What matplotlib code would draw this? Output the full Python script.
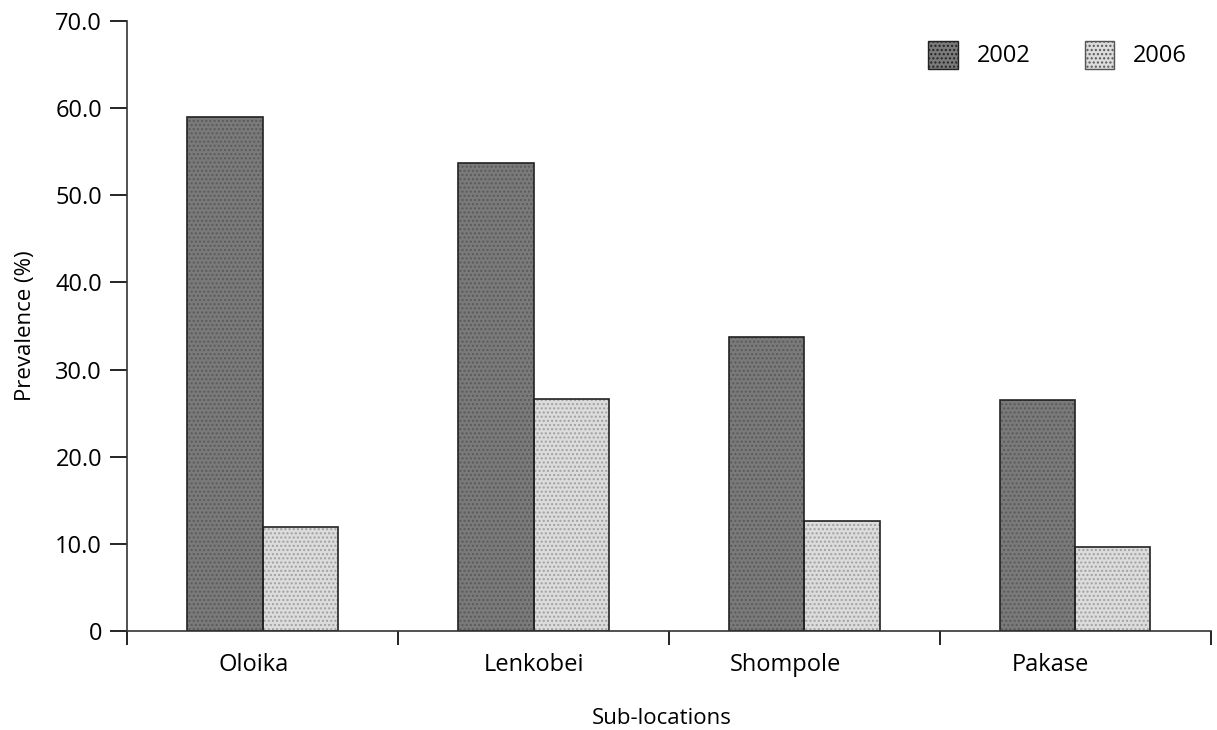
import matplotlib
matplotlib.use("Agg")
import matplotlib.pyplot as plt
import numpy as np
from matplotlib.patches import Patch

categories = ["Oloika", "Lenkobei", "Shompole", "Pakase"]
prev_2002 = [59.0, 53.7, 33.7, 26.5]
prev_2006 = [11.9, 26.6, 12.6, 9.6]
yticks = [0, 10, 20, 30, 40, 50, 60, 70]
ytick_labels = ["0", "10.0", "20.0", "30.0", "40.0", "50.0", "60.0", "70.0"]
# horizontal nudge of the category labels (as in the original figure)
label_offsets = [-0.033, 0.0, -0.07, -0.092]

plt.rcParams['font.family'] = ['Open Sans', 'DejaVu Sans']

fig = plt.figure(figsize=(12.17, 7.30), dpi=100)
ax = fig.add_axes([0.1044, 0.1356, 0.8906, 0.8356])

x = np.arange(len(categories))
w = 0.277
dark = "#7a7a7a"
light = "#dcdcdc"

# fills with stipple texture
ax.bar(x - w/2, prev_2002, w, color=dark, edgecolor="#5a5a5a", hatch="....", linewidth=0)
ax.bar(x + w/2, prev_2006, w, color=light, edgecolor="#a0a0a0", hatch="....", linewidth=0)
# outlines
ax.bar(x - w/2, prev_2002, w, fill=False, edgecolor="#222222", linewidth=1.2)
ax.bar(x + w/2, prev_2006, w, fill=False, edgecolor="#222222", linewidth=1.2)

ax.set_xlim(-0.5, len(categories) - 0.5)
ax.set_ylim(0, 70)
ax.set_yticks(yticks)
ax.set_yticklabels(ytick_labels, fontsize=17)
ax.set_xticks(np.arange(-0.5, len(categories), 1.0))
ax.set_xticklabels([])
ax.set_xticks(x + np.array(label_offsets), minor=True)
ax.set_xticklabels(categories, minor=True, fontsize=17)
ax.tick_params(axis="x", which="minor", length=0, pad=16)
ax.tick_params(axis="x", which="major", length=10, width=1.2, direction="out")
ax.tick_params(axis="y", length=12, width=1.2, direction="out", pad=6)

for s in ["top", "right"]:
    ax.spines[s].set_visible(False)
for s in ["left", "bottom"]:
    ax.spines[s].set_linewidth(1.2)
    ax.spines[s].set_color("#333333")

ax.set_ylabel("Prevalence (%)", fontsize=16, labelpad=14)
ax.set_xlabel("Sub-locations", fontsize=16, va="center")
ax.xaxis.set_label_coords(0.4935, -0.143)

handles = [Patch(facecolor=dark, edgecolor="#222222", hatch="....", label="2002"),
           Patch(facecolor=light, edgecolor="#555555", hatch="....", label="2006")]
leg = ax.legend(handles=handles, loc="upper right", ncol=2, frameon=False, fontsize=17,
                bbox_to_anchor=(0.978, 0.968), borderaxespad=0, borderpad=0,
                handlelength=1.25, handleheight=1.45,
                handletextpad=0.8, columnspacing=2.3)

fig.savefig("out.png", dpi=100, facecolor="white")
